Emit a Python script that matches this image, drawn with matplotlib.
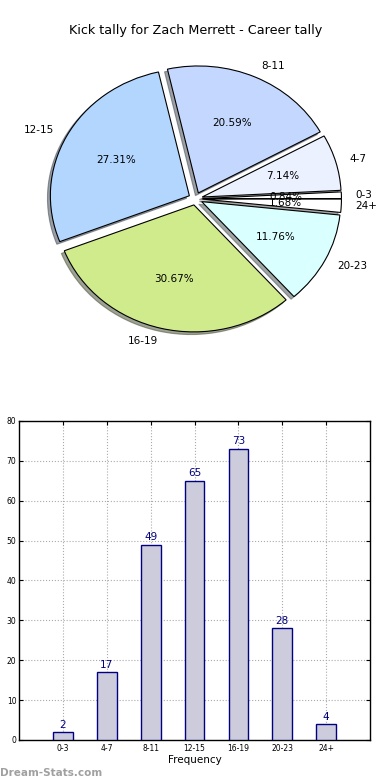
import numpy as np
import matplotlib
matplotlib.use('Agg')
import matplotlib.pyplot as plt

# kick tally per bucket
buckets = ['0-3', '4-7', '8-11', '12-15', '16-19', '20-23', '24+']
counts = [2, 17, 49, 65, 73, 28, 4]
pie_colors = ['#ffffff', '#ebf1ff', '#c4d8ff', '#b3d6ff', '#d0eb8b', '#d9ffff', '#ffffff']
title = 'Kick tally for Zach Merrett - Career tally'

fig = plt.figure(figsize=(3.9, 7.8), dpi=100)

# --- pie ---
ax1 = fig.add_axes([0.0558, 0.5417, 0.891, 0.407])
wedges, texts, autotexts = ax1.pie(
    counts, labels=buckets, colors=pie_colors, explode=[0.05] * len(counts),
    autopct='%.2f%%', shadow=dict(ox=-0.015, oy=-0.015), startangle=0,
    wedgeprops=dict(edgecolor='black', linewidth=0.8),
    textprops=dict(fontsize=7.5))
ax1.set_aspect('auto')
ax1.set_xlim(-1.25, 1.25)
ax1.set_ylim(-1.25, 1.25)
ax1.set_title(title, fontsize=9.2, pad=4)

# --- bars ---
ax2 = fig.add_axes([0.049, 0.0513, 0.9, 0.409])
x = np.arange(len(buckets))
ax2.bar(x, counts, width=0.45, color='#ccccdd', edgecolor='#000080', linewidth=1.0, zorder=3)
for xi, c in zip(x, counts):
    ax2.text(xi, c + 0.6, str(c), ha='center', va='bottom', color='#000080', fontsize=7.5)
ax2.set_xlim(-1, 7)
ax2.set_ylim(0, 80)
ax2.set_xticks(x)
ax2.set_xticklabels(buckets, fontsize=5.5)
ax2.set_yticks(range(0, 81, 10))
ax2.tick_params(axis='y', labelsize=5.5, direction='in', length=3, right=True, pad=2)
ax2.tick_params(axis='x', direction='in', length=3, top=True, pad=3)
ax2.grid(True, linestyle=':', color='#aaaaaa', linewidth=0.8, zorder=0)
ax2.set_xlabel('Frequency', fontsize=7.5, labelpad=1)
for s in ax2.spines.values():
    s.set_linewidth(1.0)

fig.text(0.0, 0.003, 'Dream-Stats.com', color='#a0a0a0', fontsize=7.5, fontweight='bold',
         ha='left', va='bottom')

fig.savefig('out.png', dpi=100)
